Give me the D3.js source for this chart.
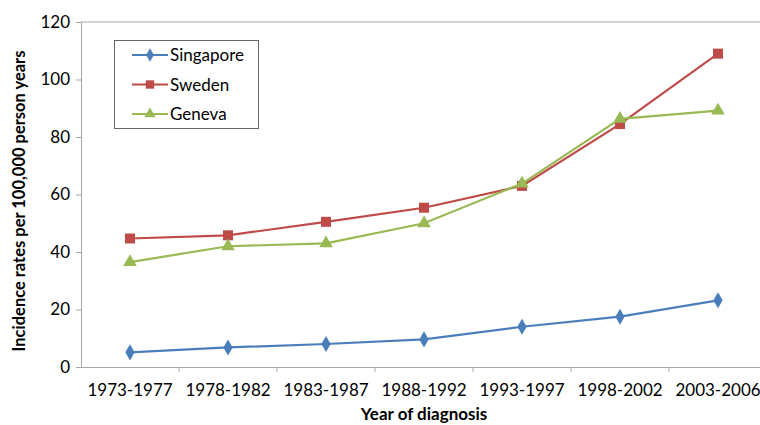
<!DOCTYPE html>
<html>
<head>
<meta charset="utf-8">
<script src="https://cdn.jsdelivr.net/npm/d3@7"></script>
<style>
  body { margin: 0; background: #fff; }
  text { font-family: Lato, "Open Sans", sans-serif; fill: #000; }
</style>
</head>
<body>
<script>
// data
let periods = ["1973-1977", "1978-1982", "1983-1987", "1988-1992", "1993-1997", "1998-2002", "2003-2006"];
let singapore = [5.1, 6.8, 8.0, 9.6, 14.0, 17.5, 23.2];
let sweden = [44.7, 45.8, 50.5, 55.4, 63.0, 84.5, 109.0];
let geneva = [36.5, 42.0, 43.0, 50.0, 63.8, 86.3, 89.2];
let yTicks = [0, 20, 40, 60, 80, 100, 120];

let series = [
  {name: "Singapore", values: singapore, color: "#4a7ebb", symbol: d3.symbolDiamond, size: 75},
  {name: "Sweden", values: sweden, color: "#be4b48", symbol: d3.symbolSquare, size: 100},
  {name: "Geneva", values: geneva, color: "#98b954", symbol: d3.symbolTriangle, size: 80}
];

let svg = d3.select("body").append("svg")
  .attr("width", 760)
  .attr("height", 425);

let plotLeft = 81, plotRight = 767, plotTop = 22, plotBottom = 367;

let x = d3.scaleBand().domain(periods).range([plotLeft, plotRight]);
let y = d3.scaleLinear().domain([0, 120]).range([plotBottom, plotTop]);

// top border of plot area
svg.append("line")
  .attr("x1", plotLeft).attr("x2", plotRight)
  .attr("y1", plotTop).attr("y2", plotTop)
  .attr("stroke", "#a6a6a6");

let yAxis = svg.append("g")
  .attr("transform", "translate(" + plotLeft + ",0)")
  .call(d3.axisLeft(y).tickValues(yTicks).tickSize(5).tickPadding(6));
yAxis.select(".domain").attr("stroke", "#a6a6a6");
yAxis.selectAll(".tick line").attr("stroke", "#a6a6a6");
yAxis.selectAll("text").style("font-size", "17px").attr("fill", "#000");

let xAxis = svg.append("g")
  .attr("transform", "translate(0," + plotBottom + ")")
  .call(d3.axisBottom(x).tickSize(0).tickPadding(17).tickSizeOuter(0));
xAxis.select(".domain").attr("stroke", "#a6a6a6");
xAxis.selectAll("text").style("font-size", "17px").attr("fill", "#000");

// tick marks between categories
svg.selectAll(".xsep")
  .data(periods)
  .enter().append("line")
  .attr("x1", d => x(d) + x.bandwidth())
  .attr("x2", d => x(d) + x.bandwidth())
  .attr("y1", plotBottom).attr("y2", plotBottom + 5)
  .attr("stroke", "#a6a6a6");

let line = d3.line()
  .x((d, i) => x(periods[i]) + x.bandwidth() / 2)
  .y(d => y(d));

series.forEach(function (s) {
  svg.append("path")
    .attr("d", line(s.values))
    .attr("fill", "none")
    .attr("stroke", s.color)
    .attr("stroke-width", 2.2);
  svg.selectAll(null)
    .data(s.values)
    .enter().append("path")
    .attr("d", d3.symbol().type(s.symbol).size(s.size))
    .attr("transform", (d, i) => "translate(" + (x(periods[i]) + x.bandwidth() / 2) + "," + y(d) + ")")
    .attr("fill", s.color);
});

// legend
let legend = svg.append("g");
legend.append("rect")
  .attr("x", 114.5).attr("y", 40.5)
  .attr("width", 144).attr("height", 88)
  .attr("fill", "#fff")
  .attr("stroke", "#666");

series.forEach(function (s, i) {
  let ly = 55 + i * 29.5;
  legend.append("line")
    .attr("x1", 132).attr("x2", 168)
    .attr("y1", ly).attr("y2", ly)
    .attr("stroke", s.color).attr("stroke-width", 2.2);
  legend.append("path")
    .attr("d", d3.symbol().type(s.symbol).size(s.size * 0.7))
    .attr("transform", "translate(150," + ly + ")")
    .attr("fill", s.color);
  legend.append("text")
    .attr("x", 170).attr("y", ly + 6)
    .style("font-size", "17px")
    .text(s.name);
});

svg.append("text")
  .attr("x", 424).attr("y", 420)
  .attr("text-anchor", "middle")
  .style("font-size", "17px")
  .style("font-weight", "bold")
  .text("Year of diagnosis");

svg.append("text")
  .attr("transform", "translate(25,201) rotate(-90)")
  .attr("text-anchor", "middle")
  .style("font-size", "16.5px")
  .style("font-weight", "bold")
  .text("Incidence rates per 100,000 person years");
</script>
</body>
</html>
